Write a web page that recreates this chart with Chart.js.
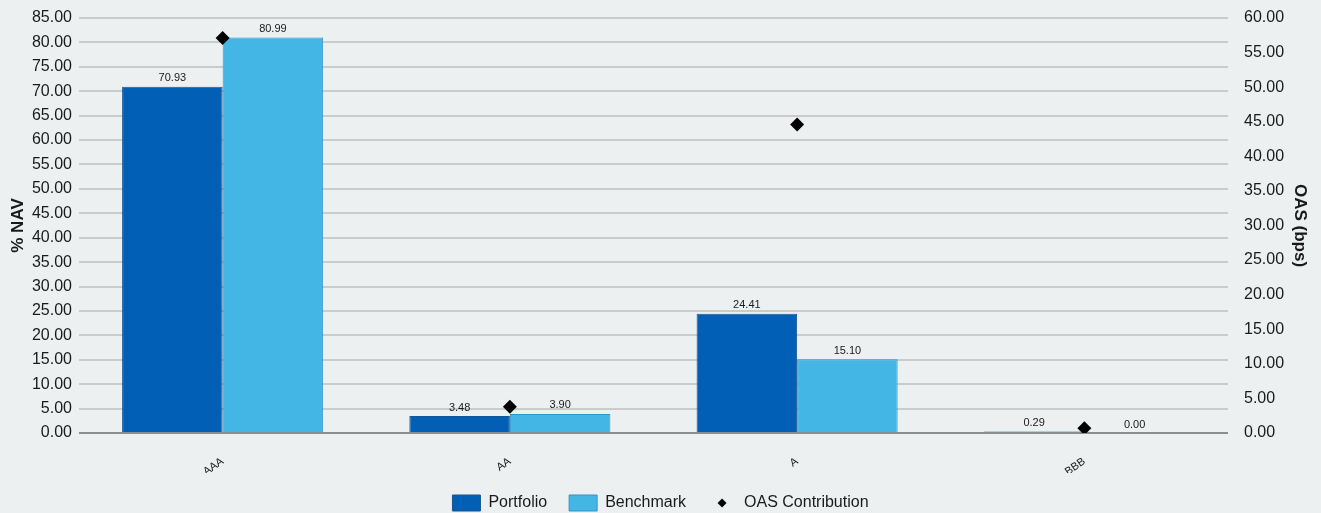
<!DOCTYPE html>
<html>
<head>
<meta charset="utf-8">
<script src="https://cdn.jsdelivr.net/npm/chart.js@4/dist/chart.umd.min.js"></script>
<style>
  html, body { margin: 0; padding: 0; background: #edf0f1; }
  #wrap { width: 1321px; height: 513px; position: relative; }
</style>
</head>
<body>
<div id="wrap"><canvas id="qualityChart"></canvas></div>
<script>
const ratings = ['AAA', 'AA', 'A', 'BBB'];
const portfolio = [70.93, 3.48, 24.41, 0.29];
const benchmark = [80.99, 3.90, 15.10, 0.00];
const oasContribution = [57.1, 3.8, 44.6, 0.7];

const fontFamily = '"Liberation Sans", Arial, Helvetica, sans-serif';
const textColor = '#1a1a1a';
const gridColor = '#c9cbcc';
const zeroLineColor = '#8c8e90';

// small diamond used only for the legend entry
function legendDiamond() {
    const c = document.createElement('canvas');
    c.width = 12;
    c.height = 12;
    const g = c.getContext('2d');
    g.fillStyle = '#000';
    g.beginPath();
    g.moveTo(6, 1.5);
    g.lineTo(10.5, 6);
    g.lineTo(6, 10.5);
    g.lineTo(1.5, 6);
    g.closePath();
    g.fill();
    return c;
}

// value labels above each bar
const barValueLabels = {
    id: 'barValueLabels',
    afterDatasetsDraw(chart) {
        const ctx = chart.ctx;
        ctx.save();
        ctx.font = '11px ' + fontFamily;
        ctx.fillStyle = textColor;
        ctx.textAlign = 'center';
        ctx.textBaseline = 'bottom';
        chart.data.datasets.forEach((ds, i) => {
            if (ds.type !== 'bar') return;
            chart.getDatasetMeta(i).data.forEach((bar, j) => {
                ctx.fillText(ds.data[j].toFixed(2), bar.x, bar.y - 3);
            });
        });
        ctx.restore();
    },
};

// y axes: fixed width, no extra room reserved for the top tick label
function fitYAxis(width) {
    return scale => {
        scale.width = width;
        scale.paddingTop = 0;
        scale.paddingBottom = 0;
    };
}

const diamondIcon = legendDiamond();

new Chart(document.getElementById('qualityChart'), {
    data: {
        labels: ratings,
        datasets: [
            {
                type: 'bar',
                label: 'Portfolio',
                data: portfolio,
                backgroundColor: '#0160b6',
                borderColor: '#1a5590',
                borderWidth: 1,
                yAxisID: 'y',
                order: 1,
            },
            {
                type: 'bar',
                label: 'Benchmark',
                data: benchmark,
                backgroundColor: '#43b6e6',
                borderColor: '#2f95c6',
                borderWidth: 1,
                yAxisID: 'y',
                order: 1,
            },
            {
                type: 'line',
                label: 'OAS Contribution',
                data: oasContribution,
                showLine: false,
                pointStyle: 'rectRot',
                pointRadius: 7,
                pointHoverRadius: 7,
                backgroundColor: '#000',
                borderColor: '#000',
                borderWidth: 0,
                yAxisID: 'y1',
                order: 0,
            },
        ],
    },
    options: {
        responsive: true,
        maintainAspectRatio: false,
        animation: false,
        layout: { padding: { top: 18, left: 0, right: 0, bottom: -8 } },
        datasets: { bar: { categoryPercentage: 0.7, barPercentage: 1.0 } },
        plugins: {
            tooltip: { enabled: false },
            legend: {
                position: 'bottom',
                labels: {
                    color: textColor,
                    font: { family: fontFamily, size: 16 },
                    usePointStyle: true,
                    pointStyleWidth: 28,
                    boxHeight: 18,
                    padding: 22,
                    generateLabels(chart) {
                        return chart.data.datasets.map((ds, i) => ({
                            text: ds.label,
                            datasetIndex: i,
                            fillStyle: ds.backgroundColor,
                            strokeStyle: ds.borderColor,
                            lineWidth: ds.type === 'bar' ? 1 : 0,
                            pointStyle: ds.type === 'bar' ? 'rect' : diamondIcon,
                            fontColor: textColor,
                            hidden: false,
                        }));
                    },
                },
            },
        },
        scales: {
            x: {
                grid: { display: false, drawTicks: false },
                border: { display: false },
                ticks: {
                    color: textColor,
                    font: { family: fontFamily, size: 11 },
                    minRotation: 35,
                    maxRotation: 35,
                    padding: 22,
                },
                afterFit(scale) { scale.height = 40; },
            },
            y: {
                position: 'left',
                min: 0,
                max: 85,
                border: { display: false },
                grid: {
                    drawTicks: false,
                    lineWidth: 2,
                    color: ctx => (ctx.tick && ctx.tick.value === 0 ? zeroLineColor : gridColor),
                },
                ticks: {
                    stepSize: 5,
                    padding: 7,
                    color: textColor,
                    font: { family: fontFamily, size: 16 },
                    callback: v => Number(v).toFixed(2),
                },
                title: {
                    display: true,
                    text: '% NAV',
                    color: textColor,
                    font: { family: fontFamily, size: 17, weight: 'bold' },
                    padding: { top: 8, bottom: 0 },
                },
                afterFit: fitYAxis(79),
            },
            y1: {
                position: 'right',
                min: 0,
                max: 60,
                border: { display: false },
                grid: { display: false, drawTicks: false },
                ticks: {
                    stepSize: 5,
                    padding: 16,
                    color: textColor,
                    font: { family: fontFamily, size: 16 },
                    callback: v => Number(v).toFixed(2),
                },
                title: {
                    display: true,
                    text: 'OAS (bps)',
                    color: textColor,
                    font: { family: fontFamily, size: 17, weight: 'bold' },
                    padding: { top: 11, bottom: 0 },
                },
                afterFit: fitYAxis(93),
            },
        },
    },
    plugins: [barValueLabels],
});
</script>
</body>
</html>
